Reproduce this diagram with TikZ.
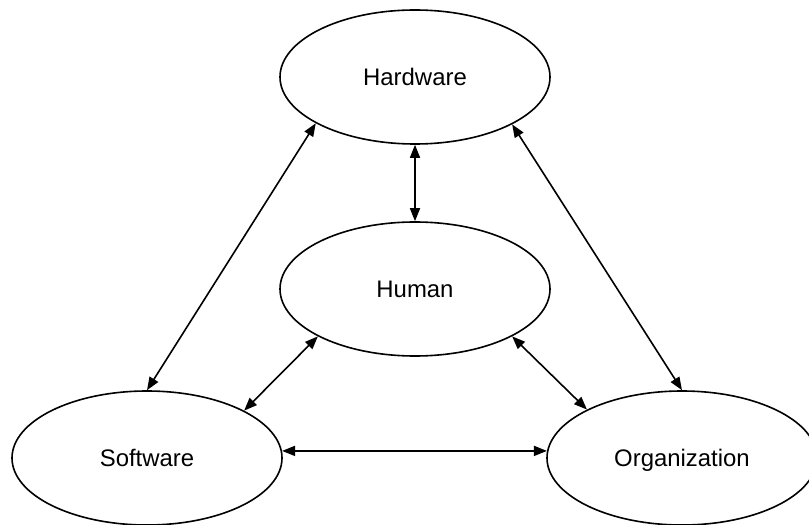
\documentclass[tikz,border=0pt]{standalone}
\usepackage{fontspec}
\setmainfont{Liberation Sans}
\usetikzlibrary{shapes.geometric,arrows.meta}
\tikzset{blob/.style={ellipse, draw, minimum width=270bp, minimum height=134bp, inner sep=0pt, text height=17.2bp, text depth=0pt, font=\fontsize{24}{28}\selectfont}}
\begin{document}
\begin{tikzpicture}[x=1bp, y=-1bp, >={Triangle[length=13bp,width=10bp]}, line width=1.6bp]
\useasboundingbox (0,0) rectangle (809,525);
\node[blob] (hw) at (415,77){Hardware};
\node[blob] (hum) at (415,289){Human};
\node[blob] (sw) at (147,458){Software};
\node[blob] (org) at (682,458){Organization};
\draw[<->](hw.south)--(hum.north);
\draw[<->](hw.205)--(sw.north);
\draw[<->](hw.334)--(org.north);
\draw[<->](hum.206)--(sw.26);
\draw[<->](hum.334)--(org.153);
\draw[<->](sw.3)--(org.177);
    \end{tikzpicture}
\end{document}
